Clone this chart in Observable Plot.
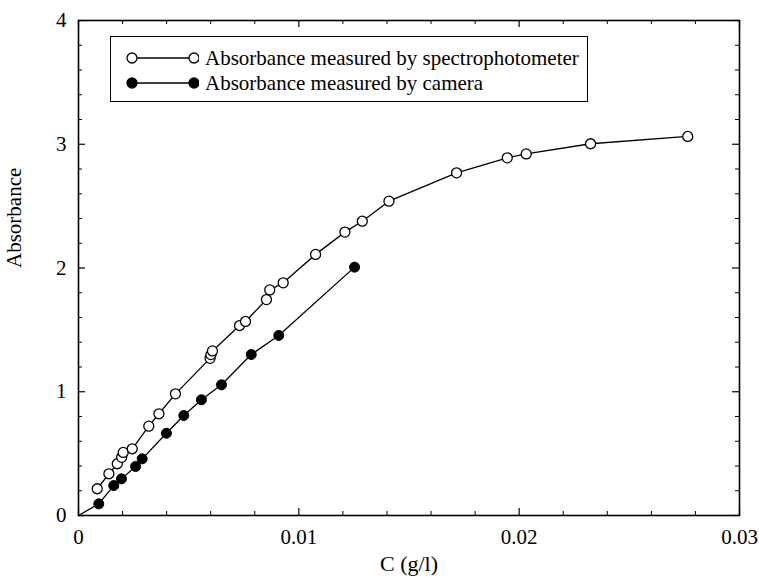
<!DOCTYPE html>
<html><head><meta charset="utf-8">
<script src="https://cdn.jsdelivr.net/npm/d3@7"></script>
<script src="https://cdn.jsdelivr.net/npm/@observablehq/plot@0.6"></script>
<style>
body{margin:0;background:#fff;}
#wrap{position:relative;width:759px;height:579px;font-family:"Liberation Serif","Times New Roman",serif;}
#wrap > svg{display:block;}
#legend{position:absolute;left:110px;top:36px;width:476px;height:64px;border:1.4px solid #000;background:#fff;}
.row{position:absolute;left:0;height:24px;display:flex;align-items:center;font-size:21px;color:#000;white-space:nowrap;}
.row svg{margin-left:14px;margin-right:6px;}
</style></head><body>
<div id="wrap"><div id="legend"></div></div>
<script>
// Spectrophotometer series (open circles)
const specC = [0.00085, 0.00138, 0.00176, 0.00196, 0.00203, 0.00244, 0.00319, 0.00365, 0.0044, 0.00597, 0.00601, 0.00608, 0.00731, 0.00758, 0.00853, 0.00868, 0.00929, 0.01076, 0.01209, 0.01288, 0.01409, 0.01716, 0.01946, 0.02032, 0.02324, 0.02765];
const specA = [0.216, 0.337, 0.418, 0.47, 0.51, 0.539, 0.722, 0.822, 0.983, 1.27, 1.30, 1.33, 1.535, 1.568, 1.745, 1.823, 1.88, 2.11, 2.29, 2.378, 2.54, 2.769, 2.89, 2.922, 3.004, 3.063];
// Camera series (filled circles); its line starts at the origin
const camC = [0.00092, 0.0016, 0.00195, 0.00259, 0.00289, 0.00399, 0.00478, 0.00558, 0.00649, 0.00784, 0.00909, 0.01253];
const camA = [0.094, 0.242, 0.296, 0.396, 0.458, 0.665, 0.808, 0.935, 1.056, 1.301, 1.455, 2.007];
const camLineStart = {C: 0, A: 0};

const seriesNames = ["Absorbance measured by spectrophotometer", "Absorbance measured by camera"];
const xTicks = [0, 0.01, 0.02, 0.03];
const xTickLabels = ["0", "0.01", "0.02", "0.03"];
const yTicks = [0, 1, 2, 3, 4];
const yTickLabels = ["0", "1", "2", "3", "4"];
const xMinor = [0.002,0.004,0.006,0.008,0.012,0.014,0.016,0.018,0.022,0.024,0.026,0.028];
const yMinor = [0.2,0.4,0.6,0.8,1.2,1.4,1.6,1.8,2.2,2.4,2.6,2.8,3.2,3.4,3.6,3.8];
const xLabel = "C (g/l)";
const yLabel = "Absorbance";

const spec = specC.map((c, i) => ({C: c, A: specA[i]}));
const cam = camC.map((c, i) => ({C: c, A: camA[i]}));
const camLine = [camLineStart, ...cam];

const xFmt = d => xTickLabels[xTicks.indexOf(d)];
const yFmt = d => yTickLabels[yTicks.indexOf(d)];

const W = 759, H = 579, mL = 78, mR = 20, mT = 20, mB = 64;
const fw = W - mL - mR, fh = H - mT - mB;
const major = 7, minor = 4;

const chart = Plot.plot({
  width: W, height: H,
  marginLeft: mL, marginRight: mR, marginTop: mT, marginBottom: mB,
  x: {domain: [0, 0.03]},
  y: {domain: [0, 4]},
  style: {fontFamily: '"Liberation Serif", "Times New Roman", serif', fontSize: "21px", color: "black", background: "white"},
  marks: [
    // inward ticks on all four sides
    Plot.tickX(xTicks, {x: d => d, insetTop: fh - major, stroke: "black", strokeWidth: 1.2}),
    Plot.tickX(xMinor, {x: d => d, insetTop: fh - minor, stroke: "black", strokeWidth: 1}),
    Plot.tickX(xTicks, {x: d => d, insetBottom: fh - major, stroke: "black", strokeWidth: 1.2}),
    Plot.tickX(xMinor, {x: d => d, insetBottom: fh - minor, stroke: "black", strokeWidth: 1}),
    Plot.tickY(yTicks, {y: d => d, insetRight: fw - major, stroke: "black", strokeWidth: 1.2}),
    Plot.tickY(yMinor, {y: d => d, insetRight: fw - minor, stroke: "black", strokeWidth: 1}),
    Plot.tickY(yTicks, {y: d => d, insetLeft: fw - major, stroke: "black", strokeWidth: 1.2}),
    Plot.tickY(yMinor, {y: d => d, insetLeft: fw - minor, stroke: "black", strokeWidth: 1}),
    // tick labels
    Plot.axisX(xTicks, {anchor: "bottom", tickSize: 0, tickPadding: 14, tickFormat: xFmt, label: null}),
    Plot.axisY(yTicks, {anchor: "left", tickSize: 0, tickPadding: 12, tickFormat: yFmt, label: null}),
    // axis titles
    Plot.text([xLabel], {text: d => d, frameAnchor: "bottom", dy: 48, lineAnchor: "middle", fontSize: 22}),
    Plot.text([yLabel], {text: d => d, frameAnchor: "left", dx: -64, rotate: -90, lineAnchor: "middle", fontSize: 21}),
    Plot.frame({stroke: "black", strokeWidth: 1.6}),
    // series
    Plot.line(spec, {x: "C", y: "A", stroke: "black", strokeWidth: 1.3}),
    Plot.line(camLine, {x: "C", y: "A", stroke: "black", strokeWidth: 1.3}),
    Plot.dot(spec, {x: "C", y: "A", r: 5, stroke: "black", fill: "white", strokeWidth: 1.3}),
    Plot.dot(cam, {x: "C", y: "A", r: 5, stroke: "black", fill: "black", strokeWidth: 1})
  ]
});
document.getElementById("wrap").prepend(chart);

// legend (HTML overlay)
const legend = document.getElementById("legend");
const ns = "http://www.w3.org/2000/svg";
seriesNames.forEach((name, i) => {
  const row = document.createElement("div");
  row.className = "row";
  row.style.top = (i === 0 ? 9 : 34) + "px";
  const svg = document.createElementNS(ns, "svg");
  svg.setAttribute("width", 74); svg.setAttribute("height", 14);
  const ln = document.createElementNS(ns, "line");
  ln.setAttribute("x1", 7); ln.setAttribute("x2", 69); ln.setAttribute("y1", 7); ln.setAttribute("y2", 7);
  ln.setAttribute("stroke", "black"); ln.setAttribute("stroke-width", 1.3);
  svg.appendChild(ln);
  [7, 69].forEach(cx => {
    const c = document.createElementNS(ns, "circle");
    c.setAttribute("cx", cx); c.setAttribute("cy", 7); c.setAttribute("r", 5);
    c.setAttribute("stroke", "black"); c.setAttribute("stroke-width", 1.3);
    c.setAttribute("fill", i === 0 ? "white" : "black");
    svg.appendChild(c);
  });
  row.appendChild(svg);
  const span = document.createElement("span");
  span.textContent = name;
  row.appendChild(span);
  legend.appendChild(row);
});
</script>
</body></html>
